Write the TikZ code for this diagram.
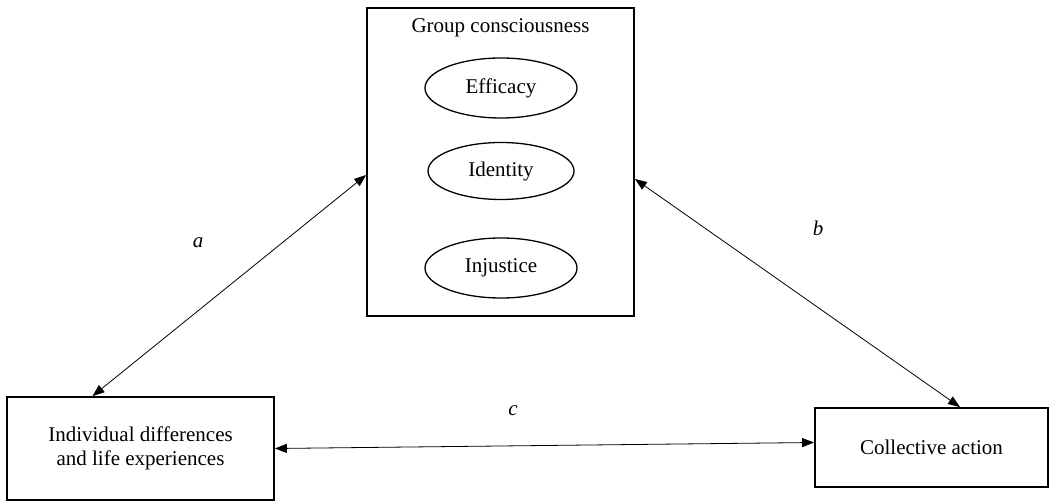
\documentclass[tikz,border=0pt]{standalone}
\usepackage{fontspec}
\setmainfont{Liberation Serif}
\usetikzlibrary{arrows.meta, shapes.geometric}

\tikzstyle{block} = [rectangle, draw, line width=1.8pt, align=center, inner sep=0pt]
\tikzstyle{factor} = [ellipse, draw, line width=1.3pt, inner sep=0pt]
\tikzstyle{line} = [draw, line width=0.8pt, {Triangle[length=12pt,width=9pt]}-{Triangle[length=12pt,width=9pt]}]

\begin{document}
\begin{tikzpicture}[x=1pt, y=1pt, font=\fontsize{21}{24}\selectfont]
\useasboundingbox (0,0) rectangle (1051,503);
\node [block, minimum width=267pt, minimum height=308pt] (Group) at (500.5,341) {};
\node (GroupTitle) at (500.5,475) {Group consciousness};
\node [factor, minimum width=152pt, minimum height=60pt] (Efficacy) at (501,415) {Efficacy};
\node [factor, minimum width=146pt, minimum height=57pt] (Identity) at (501,332) {Identity};
\node [factor, minimum width=152pt, minimum height=60pt] (Injustice) at (501,235) {Injustice};

\node [block, minimum width=267pt, minimum height=103pt] (Individual) at (140.5,54.5) {Individual differences\\and life experiences};
\node [block, minimum width=233pt, minimum height=79pt] (Collective) at (931.5,55.5) {Collective action};

\path [line] ([yshift=-13pt]Group.west) -- ([xshift=-48pt]Individual.north);
\path [line] ([yshift=-17pt]Group.east) -- ([xshift=28.5pt]Collective.north);
\path [line] (Individual.east) -- ([yshift=5pt]Collective.west);

\node (a) at (198,260) {\itshape a};
\node (b) at (818,275) {\itshape b};
\node (c) at (513,92) {\itshape c};
\end{tikzpicture}
\end{document}
